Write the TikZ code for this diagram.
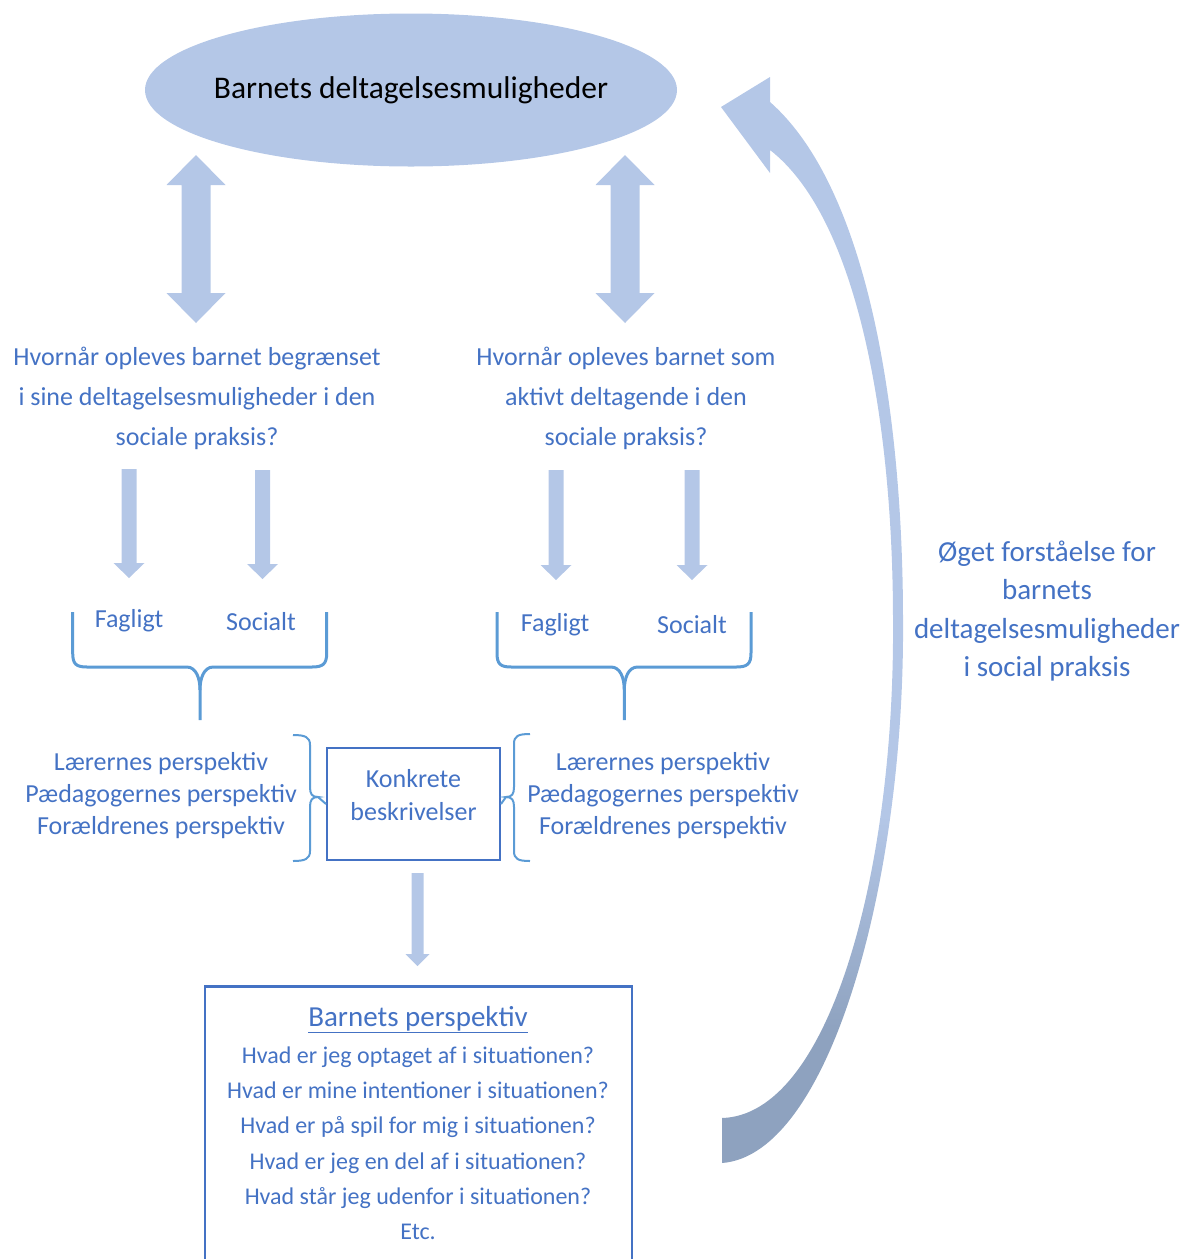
\documentclass[tikz,border=0pt]{standalone}
\usepackage{fontspec}
\setmainfont{Carlito}
\usetikzlibrary{calc,shapes.geometric}
\definecolor{txtblue}{HTML}{4472C4}
\definecolor{arrfill}{HTML}{B4C7E7}
\definecolor{brblue}{HTML}{5B9BD5}
\definecolor{cdark}{HTML}{8EA2BF}
\pgfdeclareverticalshading{curvsh}{100bp}{color(0bp)=(cdark); color(31bp)=(cdark); color(41bp)=(arrfill); color(100bp)=(arrfill)}
\newcommand\dblblk[5]{\fill[blk] let \p1=(#1), \p2=(#2) in
  (\x1,\y1) -- (\x1+#4pt,\y1-#5pt) -- (\x1+#3pt,\y1-#5pt) -- (\x1+#3pt,\y2+#5pt) -- (\x1+#4pt,\y2+#5pt)
  -- (\x2,\y2) -- (\x1-#4pt,\y2+#5pt) -- (\x1-#3pt,\y2+#5pt) -- (\x1-#3pt,\y1-#5pt) -- (\x1-#4pt,\y1-#5pt) -- cycle;}
\newcommand\downblk[5]{\fill[blk] let \p1=(#1), \p2=(#2) in
  (\x1-#3pt,\y1) -- (\x1+#3pt,\y1) -- (\x1+#3pt,\y2+#5pt) -- (\x1+#4pt,\y2+#5pt)
  -- (\x2,\y2) -- (\x1-#4pt,\y2+#5pt) -- (\x1-#3pt,\y2+#5pt) -- cycle;}
\begin{document}
\begin{tikzpicture}[x=1pt,y=-1pt,
  txt/.style={text=txtblue, font=\fontsize{26}{40}\selectfont, align=center, inner sep=0pt},
  ptxt/.style={txt, font=\fontsize{26}{32}\selectfont},
  blk/.style={fill=arrfill},
  bigbrace/.style={draw=brblue, line width=3pt},
  pbrace/.style={draw=brblue, line width=2pt},
  box/.style={draw=txtblue, line width=2pt}]
\useasboundingbox (0,0) rectangle (1186,1259);
\clip (0,0) rectangle (1186,1259);

% top ellipse
\node[ellipse, fill=arrfill, minimum width=532, minimum height=153, inner sep=0pt,
      font=\fontsize{31.5}{36}\selectfont] (ell) at (411,90) {\makebox[0pt]{Barnets deltagelsesmuligheder}};

% questions
\node[txt] (qL) at (197,398) {Hvornår opleves barnet begrænset\\i sine deltagelsesmuligheder i den\\sociale praksis?};
\node[txt] (qR) at (626,398) {Hvornår opleves barnet som\\aktivt deltagende i den\\sociale praksis?};

% double arrows
\coordinate (dL1) at (196,155); \coordinate (dL2) at (196,323);
\coordinate (dR1) at (625,155); \coordinate (dR2) at (625,323);
\dblblk{dL1}{dL2}{14.5}{29.5}{30}
\dblblk{dR1}{dR2}{14.5}{29.5}{30}

% small down arrows
\coordinate (s1a) at (129,469);   \coordinate (s1b) at (129,578);
\coordinate (s2a) at (262.5,470); \coordinate (s2b) at (262.5,579);
\coordinate (s3a) at (556,470);   \coordinate (s3b) at (556,580);
\coordinate (s4a) at (692,470);   \coordinate (s4b) at (692,580);
\downblk{s1a}{s1b}{7.5}{15.5}{15}
\downblk{s2a}{s2b}{7.5}{15.5}{15}
\downblk{s3a}{s3b}{7.5}{15.5}{15}
\downblk{s4a}{s4b}{7.5}{15.5}{15}

% Fagligt / Socialt
\node[txt] (fL) at (129,621) {Fagligt};
\node[txt] (sL) at (261,622) {Socialt};
\node[txt] (fR) at (555,625) {Fagligt};
\node[txt] (sR) at (692,625) {Socialt};

% big braces
\draw[bigbrace] (72.7,612) -- (72.7,653) .. controls (72.7,664) and (76,667) .. (87,667) -- (186.7,667)
  .. controls (196,667) and (200,678) .. (200,690) -- (200,720);
\draw[bigbrace] (200,690) .. controls (200,678) and (204,667) .. (213.3,667) -- (312,667)
  .. controls (323,667) and (326.7,664) .. (326.7,653) -- (326.7,612);
\draw[bigbrace] (497,612) -- (497,653) .. controls (497,664) and (500.3,667) .. (511.3,667) -- (611,667)
  .. controls (620.3,667) and (624.3,678) .. (624.3,690) -- (624.3,720);
\draw[bigbrace] (624.3,690) .. controls (624.3,678) and (628.3,667) .. (637.6,667) -- (736.3,667)
  .. controls (747.3,667) and (751,664) .. (751,653) -- (751,612);

% perspectives
\node[ptxt] (pL) at (161,796) {Lærernes perspektiv\\Pædagogernes perspektiv\\Forældrenes perspektiv};
\node[ptxt] (pR) at (663,796) {Lærernes perspektiv\\Pædagogernes perspektiv\\Forældrenes perspektiv};

% Konkrete beskrivelser
\node[box, minimum width=173, minimum height=112, inner sep=0pt] (konk) at (413.5,804) {};
\node[txt, font=\fontsize{26}{33}\selectfont] (konkt) at ($(konk.center)+(0,-9)$) {Konkrete\\beskrivelser};

% small braces
\draw[pbrace] (293,735) .. controls (305,735) and (310,737) .. (310,745) -- (310,787)
  .. controls (310,794) and (312,797) .. (318,797) .. controls (312,797) and (310,800) .. (310,807)
  -- (310,851) .. controls (310,859) and (305,861) .. (293,861);
\draw[pbrace] (318,797) -- (konk.west);
\draw[pbrace] (530,734) .. controls (518,734) and (514,736) .. (514,744) -- (514,787)
  .. controls (514,794) and (512,797) .. (506,797) .. controls (512,797) and (514,800) .. (514,807)
  -- (514,851) .. controls (514,859) and (518,861) .. (530,861);
\draw[pbrace] (506,797) -- (konk.east);

% arrow down to child's perspective
\coordinate (ka) at (417.5,873); \coordinate (kb) at (417.5,966);
\downblk{ka}{kb}{6}{12}{12}

% child's perspective box
\node[box, line width=2.5pt, minimum width=427, minimum height=320, anchor=north, inner sep=0pt] (bp) at (418.5,985) {};
\node[txt, font=\fontsize{24}{35.2}\selectfont] (bpt) at (418,1123)
 {{\fontsize{29}{35}\selectfont\underline{Barnets perspektiv}}\\[2pt]
  Hvad er jeg optaget af i situationen?\\
  Hvad er mine intentioner i situationen?\\
  Hvad er på spil for mig i situationen?\\
  Hvad er jeg en del af i situationen?\\
  Hvad står jeg udenfor i situationen?\\
  Etc.};

% curved feedback arrow
\shade[shading=curvsh] (722,1163) .. controls (830,1155) and (905,880) .. (903,620)
  .. controls (903,420) and (870,190) .. (770,102) -- (770,77) -- (721,107) -- (770,173) -- (770,150)
  .. controls (860,220) and (893,430) .. (893,620)
  .. controls (895,870) and (830,1115) .. (722,1118) -- cycle;

\node[txt, font=\fontsize{29}{38.5}\selectfont] (oget) at (1047,611)
 {Øget forståelse for\\barnets\\deltagelsesmuligheder\\i social praksis};
\end{tikzpicture}
\end{document}
